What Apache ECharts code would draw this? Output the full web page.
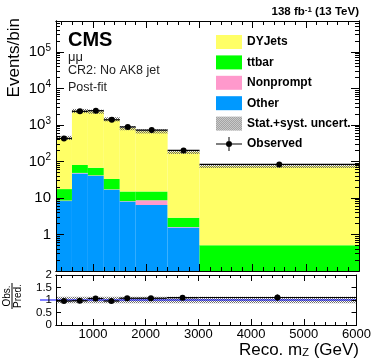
<!DOCTYPE html>
<html>
<head>
<meta charset="utf-8">
<script src="https://cdn.jsdelivr.net/npm/echarts@6/dist/echarts.min.js"></script>
<style>
  html, body { margin: 0; padding: 0; background: #fff; }
  #chart { width: 374px; height: 363px; }
</style>
</head>
<body>
<div id="chart"></div>
<script>
// bin edges of reco m_Z (GeV)
const binEdges = [300, 600, 900, 1200, 1500, 1800, 2400, 3000, 6000];

// post-fit yields per bin (events/bin)
const dyJets    = [426, 2343, 2244, 1404, 807, 658, 180, 75];
const ttbar     = [9.0, 31.5, 25.5, 15.8, 6.8, 6.3, 1.25, 0.51];
const nonprompt = [0.3, 1.5, 1.5, 0.5, 0.2, 2.3, 0.05, 0];
const other     = [8.2, 47, 40, 16.7, 8.0, 6.4, 1.55, 0];
const uncRel    = [0.13, 0.13, 0.13, 0.13, 0.13, 0.13, 0.13, 0.13];

const observed    = [425, 2350, 2450, 1380, 880, 720, 200, 83];
const observedErr = [21, 48, 49, 37, 30, 27, 14, 9];

const xTicks = [1000, 2000, 3000, 4000, 5000, 6000];
const yTicks = [1, 10, 100, 1000, 10000, 100000];
const ratioTicks = [0, 0.5, 1, 1.5, 2];

const FONT = '"Liberation Sans", Arial, Helvetica, sans-serif';
const X_MIN = 300, X_MAX = 6000;
const Y_MIN = 0.1, Y_MAX = 7e5;
const nBins = binEdges.length - 1;

// checkered grey hatch like ROOT fill style 3013-ish
function makeHatch() {
  const c = document.createElement('canvas');
  c.width = 2; c.height = 2;
  const ctx = c.getContext('2d');
  ctx.fillStyle = '#6e6e6e';
  ctx.fillRect(0, 0, 1, 1);
  ctx.fillRect(1, 1, 1, 1);
  return { image: c, repeat: 'repeat' };
}
const hatch = makeHatch();

function renderBox(fill) {
  return function (params, api) {
    const lo = api.value(2), hi = api.value(3);
    if (!(hi > lo)) return null;
    const a = api.coord([api.value(0), hi]);
    const b = api.coord([api.value(1), lo]);
    return {
      type: 'rect',
      shape: { x: a[0], y: a[1], width: b[0] - a[0], height: b[1] - a[1] },
      style: { fill: fill }
    };
  };
}

function renderPoints(params, api) {
  const y = api.value(1), e = api.value(4);
  const c = api.coord([api.value(0), y]);
  const l = api.coord([api.value(2), y]);
  const r = api.coord([api.value(3), y]);
  const top = api.coord([api.value(0), y + e]);
  const bot = api.coord([api.value(0), y - e]);
  const ls = { stroke: '#000', lineWidth: 1.2 };
  return {
    type: 'group',
    children: [
      { type: 'line', shape: { x1: l[0], y1: c[1], x2: r[0], y2: c[1] }, style: ls },
      { type: 'line', shape: { x1: c[0], y1: top[1], x2: c[0], y2: bot[1] }, style: ls },
      { type: 'circle', shape: { cx: c[0], cy: c[1], r: 3 }, style: { fill: '#000' } }
    ]
  };
}

// stacked backgrounds, bottom to top
const layers = [
  { name: 'Other', values: other, color: '#0099ff' },
  { name: 'Nonprompt', values: nonprompt, color: '#ff99cc' },
  { name: 'ttbar', values: ttbar, color: '#00ff00' },
  { name: 'DYJets', values: dyJets, color: '#ffff66' }
];
const cum = new Array(nBins).fill(0);
const series = layers.map(layer => {
  const data = [];
  for (let i = 0; i < nBins; i++) {
    const lo = cum[i];
    cum[i] += layer.values[i];
    data.push([binEdges[i], binEdges[i + 1], Math.max(lo, Y_MIN), Math.max(cum[i], Y_MIN)]);
  }
  return {
    name: layer.name, type: 'custom', xAxisIndex: 0, yAxisIndex: 0,
    clip: true, itemStyle: { color: layer.color },
    encode: { x: [0, 1], y: [2, 3] },
    renderItem: renderBox(layer.color),
    data: data
  };
});
const predicted = cum.slice();

const binData = (fn) => predicted.map((p, i) => fn(p, i, binEdges[i], binEdges[i + 1]));

series.push({
  name: 'Stat.+syst. uncert.', type: 'custom', xAxisIndex: 0, yAxisIndex: 0,
  clip: true, itemStyle: { color: hatch },
  encode: { x: [0, 1], y: [2, 3] },
  renderItem: renderBox(hatch),
  data: binData((p, i, a, b) => [a, b, p * (1 - uncRel[i]), p * (1 + uncRel[i])])
});
series.push({
  name: 'Observed', type: 'custom', xAxisIndex: 0, yAxisIndex: 0,
  clip: true, itemStyle: { color: '#000' }, z: 4,
  encode: { x: 0, y: 1 },
  renderItem: renderPoints,
  data: binData((p, i, a, b) => [(a + b) / 2, observed[i], a, b, observedErr[i]])
});

// ratio panel
series.push({
  name: 'ratioBand', type: 'custom', xAxisIndex: 4, yAxisIndex: 4,
  clip: true, encode: { x: [0, 1], y: [2, 3] },
  renderItem: renderBox(hatch),
  data: binData((p, i, a, b) => [a, b, 1 - uncRel[i], 1 + uncRel[i]])
});
series.push({
  name: 'ratioOne', type: 'custom', xAxisIndex: 4, yAxisIndex: 4,
  clip: false, z: 3, encode: { x: 0, y: 1 },
  renderItem: function (params, api) {
    const cs = params.coordSys;
    const p = api.coord([api.value(0), api.value(1)]);
    return {
      type: 'line',
      shape: { x1: cs.x - 16, y1: p[1], x2: cs.x + cs.width, y2: p[1] },
      style: { stroke: '#0000ff', lineWidth: 1 }
    };
  },
  data: [[X_MIN, 1]]
});
series.push({
  name: 'ratioObs', type: 'custom', xAxisIndex: 4, yAxisIndex: 4,
  clip: true, z: 4, encode: { x: 0, y: 1 },
  renderItem: renderPoints,
  data: binData((p, i, a, b) => [(a + b) / 2, observed[i] / p, a, b, observedErr[i] / p])
});

// axes: ROOT-style frame with ticks on all four sides
const minorX = [];
for (let v = 400; v < X_MAX; v += 200) if (v % 1000 !== 0) minorX.push(v);
const minorY = [];
for (let k = -1; k <= 5; k++) for (let m = 2; m <= 9; m++) {
  const v = +(m * Math.pow(10, k)).toPrecision(3);
  if (v < Y_MAX) minorY.push(v);
}
const majorY = [0.1].concat(yTicks);

function xAx(grid, pos, ticks, len, label) {
  return {
    type: 'value', gridIndex: grid, position: pos, min: X_MIN, max: X_MAX, z: 6,
    axisLine: { show: true, onZero: false, lineStyle: { color: '#000', width: 1 } },
    axisTick: { show: true, inside: true, length: len, customValues: ticks, lineStyle: { color: '#000' } },
    axisLabel: label || { show: false },
    splitLine: { show: false }
  };
}
function yAx(grid, pos, type, min, max, ticks, len, label) {
  return {
    type: type, gridIndex: grid, position: pos, min: min, max: max, z: 6,
    axisLine: { show: true, onZero: false, lineStyle: { color: '#000', width: 1 } },
    axisTick: { show: true, inside: true, length: len, customValues: ticks, lineStyle: { color: '#000' } },
    axisLabel: label || { show: false },
    splitLine: { show: false }
  };
}

const ratioXLabel = {
  show: true, customValues: xTicks, fontSize: 13, fontFamily: FONT, color: '#000', margin: 3,
  hideOverlap: false, showMinLabel: true, showMaxLabel: true,
  formatter: v => String(v)
};
const logLabel = {
  show: true, customValues: yTicks, fontFamily: FONT, color: '#000', fontSize: 15, margin: 5,
  hideOverlap: false,
  formatter: function (v) {
    const k = Math.round(Math.log10(v));
    if (k === 0) return '1';
    if (k === 1) return '10';
    return '10{sup|' + k + '}';
  },
  rich: { sup: { fontSize: 10, fontFamily: FONT, color: '#000', verticalAlign: 'top', padding: [0, 0, 8, 0] } }
};
const ratioYLabel = {
  show: true, customValues: ratioTicks, fontSize: 11.5, fontFamily: FONT, color: '#000', margin: 4,
  hideOverlap: false, showMinLabel: true, showMaxLabel: true,
  formatter: v => String(v)
};

const xAxes = [
  xAx(0, 'bottom', xTicks, 7), xAx(0, 'bottom', minorX, 4),
  xAx(0, 'top', xTicks, 7), xAx(0, 'top', minorX, 4),
  xAx(1, 'bottom', xTicks, 6, ratioXLabel), xAx(1, 'bottom', minorX, 3),
  xAx(1, 'top', xTicks, 6), xAx(1, 'top', minorX, 3)
];
const yAxes = [
  yAx(0, 'left', 'log', Y_MIN, Y_MAX, majorY, 8, logLabel), yAx(0, 'left', 'log', Y_MIN, Y_MAX, minorY, 4),
  yAx(0, 'right', 'log', Y_MIN, Y_MAX, majorY, 8), yAx(0, 'right', 'log', Y_MIN, Y_MAX, minorY, 4),
  yAx(1, 'left', 'value', 0, 2, ratioTicks, 5, ratioYLabel),
  yAx(1, 'right', 'value', 0, 2, ratioTicks, 5)
];

const obsIcon = 'path://M0,6.5H26V7.5H0Z M12.5,0H13.5V14H12.5Z M16,7A3,3 0 1 1 10,7A3,3 0 1 1 16,7Z';

const chart = echarts.init(document.getElementById('chart'));
chart.setOption({
  animation: false,
  backgroundColor: '#fff',
  textStyle: { fontFamily: FONT },
  grid: [
    { left: 56, right: 15, top: 21, height: 250 },
    { left: 56, right: 15, top: 275, height: 50 }
  ],
  xAxis: xAxes,
  yAxis: yAxes,
  legend: {
    left: 211, top: 30, orient: 'vertical', itemWidth: 26, itemHeight: 14, itemGap: 6.4,
    selectedMode: false,
    textStyle: { fontSize: 12, fontWeight: 'bold', fontFamily: FONT, color: '#000' },
    data: [
      { name: 'DYJets', icon: 'rect' },
      { name: 'ttbar', icon: 'rect' },
      { name: 'Nonprompt', icon: 'rect' },
      { name: 'Other', icon: 'rect' },
      { name: 'Stat.+syst. uncert.', icon: 'rect' },
      { name: 'Observed', icon: obsIcon }
    ]
  },
  graphic: [
    { type: 'text', x: 68, y: 40, style: { text: 'CMS', fontSize: 20, fontWeight: 'bold', fontFamily: FONT, fill: '#000', verticalAlign: 'middle' } },
    { type: 'text', x: 68, y: 57, style: { text: 'μμ', fontSize: 13, fontFamily: FONT, fill: '#222', verticalAlign: 'middle' } },
    { type: 'text', x: 68, y: 71, style: { text: 'CR2: No AK8 jet', fontSize: 12.5, fontFamily: FONT, fill: '#222', verticalAlign: 'middle' } },
    { type: 'text', x: 68, y: 88, style: { text: 'Post-fit', fontSize: 12.5, fontFamily: FONT, fill: '#222', verticalAlign: 'middle' } },
    {
      type: 'text', x: 359, y: 12,
      style: {
        text: '138 fb{sup|-1} (13 TeV)', fontSize: 11.5, fontWeight: 'bold', fontFamily: FONT, fill: '#000',
        align: 'right', verticalAlign: 'middle',
        rich: { sup: { fontSize: 8, fontWeight: 'bold', fontFamily: FONT, verticalAlign: 'top', padding: [0, 0, 5, 0] } }
      }
    },
    {
      type: 'text', x: 14, y: 18, rotation: Math.PI / 2,
      style: { text: 'Events/bin', fontSize: 17, fontFamily: FONT, fill: '#000', align: 'right', verticalAlign: 'middle' }
    },
    {
      type: 'text', x: 359, y: 350,
      style: {
        text: 'Reco. m{sub|Z} (GeV)', fontSize: 17, fontFamily: FONT, fill: '#000',
        align: 'right', verticalAlign: 'middle',
        rich: { sub: { fontSize: 11, fontFamily: FONT, verticalAlign: 'bottom', padding: [6, 0, 0, 0] } }
      }
    },
    {
      type: 'group', x: 12, y: 296, rotation: Math.PI / 2,
      children: [
        { type: 'text', x: 0, y: -5, style: { text: 'Obs.', fontSize: 10, fontFamily: FONT, fill: '#000', align: 'center', verticalAlign: 'middle' } },
        { type: 'line', shape: { x1: -13, y1: 0, x2: 13, y2: 0 }, style: { stroke: '#000', lineWidth: 1 } },
        { type: 'text', x: 0, y: 6, style: { text: 'Pred.', fontSize: 10, fontFamily: FONT, fill: '#000', align: 'center', verticalAlign: 'middle' } }
      ]
    }
  ],
  series: series
});
</script>
</body>
</html>
